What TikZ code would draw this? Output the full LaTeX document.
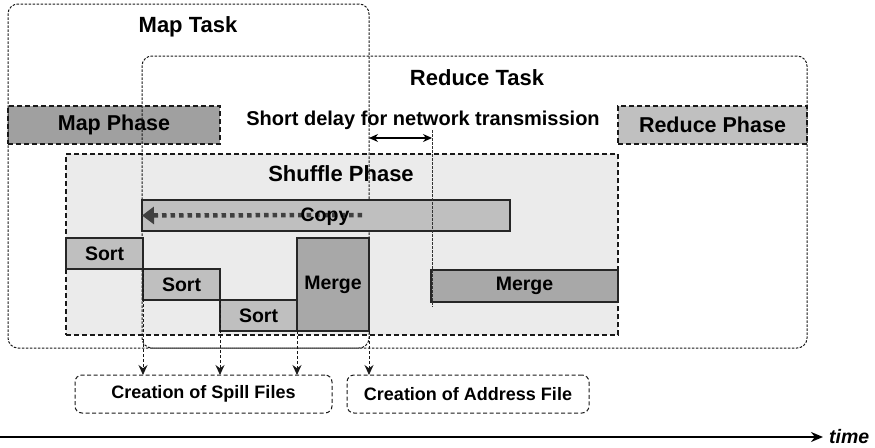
\documentclass[tikz,border=0pt]{standalone}
\usepackage{fontspec}
\setmainfont{Liberation Sans}
\usetikzlibrary{arrows.meta}
\definecolor{phasedark}{HTML}{A0A0A0}
\definecolor{phaselight}{HTML}{C0C0C0}
\definecolor{shufflebg}{HTML}{EBEBEB}
\definecolor{mergefill}{HTML}{A8A8A8}
\definecolor{barfill}{HTML}{BFBFBF}
\definecolor{copyarrow}{HTML}{404040}
\tikzset{
  taskbox/.style={draw=black!90, line width=1pt, dash pattern=on 2.5pt off 1.5pt, rounded corners=10pt, inner sep=0pt, outer sep=0pt},
  phasebox/.style={draw=black!90, line width=1.1pt, dash pattern=on 5pt off 3pt, inner sep=0pt, outer sep=0pt, font=\fontsize{21.5}{24}\selectfont\bfseries},
  bar/.style={draw=black!85, line width=1.2pt, fill=barfill, inner sep=0pt, outer sep=0pt, font=\fontsize{19.5}{22}\selectfont\bfseries},
  mergebar/.style={bar, fill=mergefill},
  label/.style={inner sep=0pt, font=\fontsize{22}{24}\selectfont\bfseries},
  filebox/.style={draw=black!90, line width=1pt, dash pattern=on 4pt off 2.5pt, rounded corners=7pt, inner sep=0pt, outer sep=0pt, font=\fontsize{18}{20}\selectfont\bfseries},
  downarrow/.style={draw=black!90, line width=0.9pt, dash pattern=on 3pt off 2pt, -{Stealth[length=10pt,width=9pt]}},
  thinline/.style={draw=black!80, line width=0.9pt, dash pattern=on 2.5pt off 1.5pt}
}
\begin{document}
\begin{tikzpicture}[x=1pt,y=-1pt]
\useasboundingbox (0,0) rectangle (875,447);
% phase fills
\node[phasebox, fill=phasedark, minimum width=212pt, minimum height=38pt] (mapphase) at (114,125) {Map Phase};
\node[phasebox, fill=phaselight, minimum width=189pt, minimum height=38pt] (redphase) at (712.5,125) {Reduce Phase};
\node[phasebox, fill=shufflebg, minimum width=552pt, minimum height=181pt] (shuffle) at (342,244.5) {};
% task boxes
\node[taskbox, minimum width=361pt, minimum height=344pt] (maptask) at (188.5,176) {};
\node[taskbox, minimum width=665pt, minimum height=292pt] (redtask) at (474.5,202) {};
% labels
\node[label] (maptasklbl) at (188,27) {Map Task};
\node[label] (redtasklbl) at (477,78) {Reduce Task};
\node[label, font=\fontsize{20}{22}\selectfont\bfseries] (delaylbl) at (423,120) {Short delay for network transmission};
\node[label] (shufflelbl) at (341,174) {Shuffle Phase};
% bars
\node[bar, minimum width=368pt, minimum height=31pt] (copy) at (326,215.5) {};
\node[bar, minimum width=77pt, minimum height=31pt] (sort1) at (104.5,253.5) {Sort};
\node[bar, minimum width=77pt, minimum height=31pt] (sort2) at (181.5,284.5) {Sort};
\node[bar, minimum width=77pt, minimum height=31pt] (sort3) at (258.5,315.5) {Sort};
\node[mergebar, minimum width=72pt, minimum height=93pt] (merge1) at (333,284.5) {\raisebox{-3pt}{Merge}};
\node[mergebar, minimum width=187pt, minimum height=32pt] (merge2) at (524.5,286) {Merge};
% copy arrow
\coordinate (copystart) at (362,215);
\draw[copyarrow, line width=4.5pt, dash pattern=on 4.5pt off 4pt, -{Triangle[length=12pt,width=17pt]}] (copystart) -- (copy.west);
\node[inner sep=0pt, font=\fontsize{19.5}{22}\selectfont\bfseries] (copylbl) at (325,217) {Copy};
% delay line and double arrow
\coordinate (delaytop) at (432,130);
\coordinate (delaybot) at (432,307);
\draw[thinline] (delaytop) -- (delaybot);
\coordinate (dl) at (369,138);
\coordinate (dr) at (432,138);
\draw[line width=1.3pt, {Stealth[length=9pt,width=8pt]}-{Stealth[length=9pt,width=8pt]}] (dl) -- (dr);
% file boxes
\node[filebox, minimum width=257pt, minimum height=38pt] (spill) at (203.5,394) {Creation of Spill Files};
\node[filebox, minimum width=242pt, minimum height=38pt] (address) at (468,394) {Creation of Address File};
% down arrows
\draw[downarrow] (sort1.south east) -- (sort1.south east |- spill.north);
\draw[downarrow] (sort2.south east) -- (sort2.south east |- spill.north);
\draw[downarrow] (sort3.south east) -- (sort3.south east |- spill.north);
\draw[downarrow] (merge1.south east) -- (merge1.south east |- address.north);
% time axis
\node[inner sep=0pt, anchor=west, font=\fontsize{19.5}{22}\selectfont\bfseries\itshape] (timelbl) at (829,437) {time};
\coordinate (timestart) at (0,437);
\draw[line width=2.6pt, -{Stealth[length=12pt,width=10pt]}] (timestart) -- ([xshift=-6pt]timelbl.west);
\end{tikzpicture}
\end{document}
